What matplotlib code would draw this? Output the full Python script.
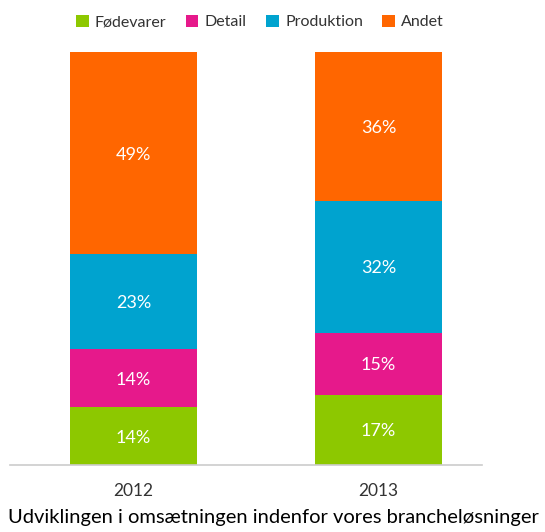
import matplotlib.pyplot as plt
from matplotlib.patches import Patch
import numpy as np

plt.rcParams['font.family'] = ['Lato', 'DejaVu Sans']

years = ["2012", "2013"]
categories = ["Fødevarer", "Detail", "Produktion", "Andet"]
shares = {
    "Fødevarer": [14, 17],
    "Detail": [14, 15],
    "Produktion": [23, 32],
    "Andet": [49, 36],
}
colors = ["#8DC800", "#E6198B", "#00A3CF", "#FF6600"]
title = "Udviklingen i omsætningen indenfor vores brancheløsninger"

fig = plt.figure(figsize=(5.45, 5.32), dpi=100)
ax = fig.add_axes([10 / 545, 67 / 532, 472 / 545, 413 / 532])

x = np.arange(len(years))
bottom = np.zeros(len(years))
for cat, col in zip(categories, colors):
    vals = np.array(shares[cat], dtype=float)
    ax.bar(x, vals, width=0.518, bottom=bottom, color=col, linewidth=0)
    for xi, b, v in zip(x, bottom, vals):
        ax.text(xi, b + v / 2, f"{v:.0f}%", ha="center", va="center_baseline",
                color="white", fontsize=13)
    bottom += vals

ax.set_xlim(-0.504, 1.422)
ax.set_ylim(0, 100)
ax.set_yticks([])
ax.set_xticks(x)
ax.set_xticklabels(years, fontsize=12.5, color="#333333")
ax.tick_params(axis="x", length=0, pad=13)
for s in ["top", "right", "left"]:
    ax.spines[s].set_visible(False)
ax.spines["bottom"].set_color("#cccccc")
ax.spines["bottom"].set_linewidth(1.2)

handles = [Patch(facecolor=c, edgecolor="none") for c in colors]
fig.legend(handles, categories, loc="center", bbox_to_anchor=(0.477, 1 - 22 / 532),
           ncol=4, frameon=False, fontsize=11.5, handlelength=0.8, handleheight=0.8,
           handletextpad=0.4, columnspacing=1.2, labelcolor="#333333")

fig.text(0.502, 1 - 517 / 532, title, ha="center", va="center", fontsize=14.5, color="black")

fig.savefig("out.png", dpi=100)
